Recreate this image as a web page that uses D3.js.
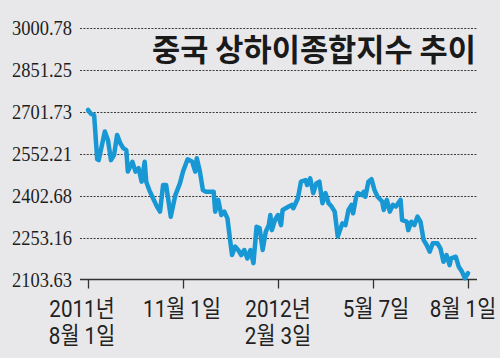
<!DOCTYPE html>
<html><head><meta charset="utf-8">
<script src="https://cdn.jsdelivr.net/npm/d3@7"></script>
<style>
html,body{margin:0;padding:0;background:#e8e8ea;}
svg{display:block;}
</style></head>
<body><svg id="chart" width="500" height="358"></svg>
<script>
const title = "중국 상하이종합지수 추이";
const yTicks = [2103.63, 2253.16, 2402.68, 2552.21, 2701.73, 2851.25, 3000.78];
const xTickDays = [0, 62, 124, 186, 248];
const xTickLabels = [["2011년", "8월 1일"], ["11월 1일"], ["2012년", "2월 3일"], ["5월 7일"], ["8월 1일"]];
// trading-day index and index value
const days = [0,2,4,6,7,11,13,15,17,19,21,23,25,26,29,31,33,35,37,38,40,42,45,47,49,51,54,57,60,62,65,68,70,71,73,75,77,82,83,85,87,89,91,93,94,96,98,100,102,104,106,108,110,112,114,116,118,119,120,122,124,126,127,131,133,134,137,139,142,143,145,147,149,151,153,155,157,159,161,163,166,168,170,172,173,175,176,179,180,181,183,185,187,189,192,193,195,197,199,201,204,205,208,209,211,213,215,217,219,221,223,225,228,230,232,234,236,237,240,242,244,246,248];
const values = [2709,2695,2691,2533,2530,2632,2602,2530,2548,2620,2591,2573,2566,2489,2524,2489,2501,2453,2524,2453,2423,2399,2364,2346,2441,2441,2328,2405,2447,2489,2533,2524,2489,2537,2490,2423,2417,2417,2346,2388,2334,2346,2322,2233,2191,2221,2209,2191,2209,2179,2209,2162,2292,2287,2209,2274,2298,2334,2280,2316,2334,2298,2352,2364,2370,2358,2394,2453,2459,2441,2465,2412,2447,2453,2376,2412,2376,2364,2346,2257,2304,2298,2352,2370,2340,2399,2412,2405,2417,2399,2453,2462,2423,2399,2382,2352,2388,2346,2370,2364,2388,2316,2310,2280,2310,2298,2328,2310,2245,2227,2203,2233,2233,2215,2167,2191,2155,2179,2185,2149,2132,2108,2126];

const svg = d3.select("#chart");
const left = 80, right = 477, plotLeft = 88, plotRight = 468;
const y = d3.scaleLinear().domain([2103.63, 3000.78]).range([279.5, 28.3]);
const x = d3.scaleLinear().domain([0, 248]).range([plotLeft, plotRight]);

// gridlines
svg.append("g").selectAll("line").data(yTicks.slice(1)).join("line")
  .attr("x1", left).attr("x2", right)
  .attr("y1", d => Math.round(y(d)) + 0.5).attr("y2", d => Math.round(y(d)) + 0.5)
  .attr("stroke", "#3a3a3a").attr("stroke-width", 1).attr("stroke-dasharray", "2,1.4");

// y labels
svg.append("g").selectAll("text").data(yTicks).join("text")
  .attr("x", 72).attr("y", d => y(d) + 7)
  .attr("text-anchor", "end")
  .attr("font-family", "Liberation Serif, serif").attr("font-size", 20)
  .attr("fill", "#1e1e1e")
  .attr("textLength", 60).attr("lengthAdjust", "spacingAndGlyphs")
  .text(d => d.toFixed(2));

// title
svg.append("text").attr("x", 152).attr("y", 61)
  .attr("font-family", "Noto Sans CJK KR").attr("font-weight", 700)
  .attr("font-size", 31).attr("fill", "#1a1a1a")
  .attr("textLength", 324).attr("lengthAdjust", "spacingAndGlyphs")
  .text(title);

// x axis
const xAxis = d3.axisBottom(x).tickValues(xTickDays).tickSize(9).tickFormat("");
const ax = svg.append("g").attr("transform", "translate(0,279.5)").call(xAxis);
ax.select(".domain").attr("d", `M${left},0H${right}`).attr("stroke", "#333").attr("stroke-width", 1.3);
ax.selectAll(".tick line").attr("stroke", "#333").attr("stroke-width", 1.3);

// x labels (one text per tick, lines as tspans)
const labelDx = [-6, -1, 0, 3, -5];
const lg = svg.append("g");
xTickDays.forEach((d, i) => {
  const t = lg.append("text")
    .attr("transform", `translate(${x(d) + labelDx[i]},317) scale(0.86,1)`)
    .attr("text-anchor", "middle")
    .attr("font-family", "Roboto, 'Noto Sans CJK KR', sans-serif").attr("font-size", 24)
    .attr("fill", "#222");
  xTickLabels[i].forEach((s, j) => {
    t.append("tspan").attr("x", 0).attr("y", j * 27.5).text(s);
  });
});

// line
const line = d3.line().x((d, i) => x(days[i])).y(d => y(d)).curve(d3.curveLinear);
svg.append("path").datum(values).attr("d", line)
  .attr("fill", "none").attr("stroke", "#1797d3").attr("stroke-width", 4.5)
  .attr("stroke-linejoin", "round").attr("stroke-linecap", "round");
</script></body></html>
